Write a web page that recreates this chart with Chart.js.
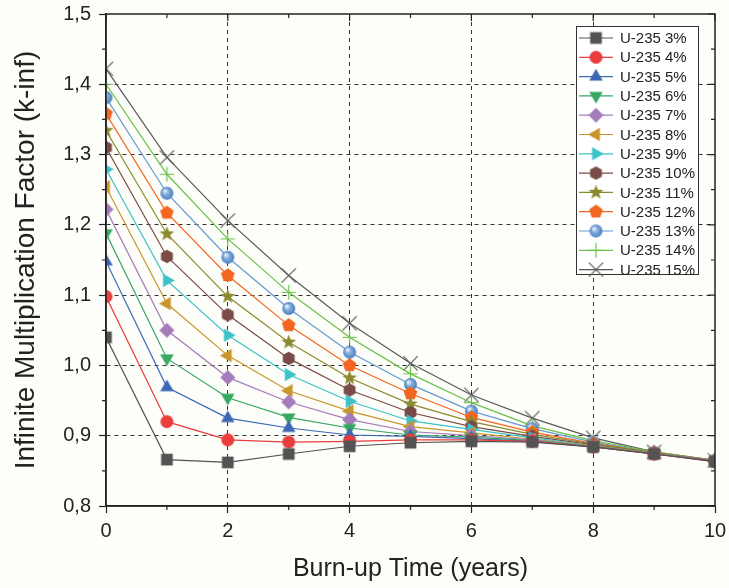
<!DOCTYPE html>
<html>
<head>
<meta charset="utf-8">
<script src="https://cdn.jsdelivr.net/npm/chart.js"></script>
<style>
  body { margin: 0; padding: 0; background: #fdfdf9; }
  #wrap { width: 729px; height: 588px; position: relative; }
</style>
</head>
<body>
<div id="wrap"><canvas id="kinfChart"></canvas></div>
<script>
// burn-up time (years)
const years = [0, 1, 2, 3, 4, 5, 6, 7, 8, 9, 10];
const enrichments = ['3%', '4%', '5%', '6%', '7%', '8%', '9%', '10%', '11%', '12%', '13%', '14%', '15%'];

// k-inf, one array per enrichment
const u3  = [1.040, 0.866, 0.862, 0.874, 0.885, 0.890, 0.892, 0.891, 0.884, 0.874, 0.863];
const u4  = [1.098, 0.920, 0.894, 0.891, 0.892, 0.894, 0.894, 0.892, 0.884, 0.874, 0.863];
const u5  = [1.148, 0.969, 0.925, 0.911, 0.901, 0.899, 0.896, 0.892, 0.884, 0.874, 0.864];
const u6  = [1.188, 1.010, 0.954, 0.926, 0.911, 0.901, 0.898, 0.893, 0.885, 0.875, 0.864];
const u7  = [1.222, 1.050, 0.983, 0.948, 0.923, 0.906, 0.900, 0.894, 0.885, 0.875, 0.864];
const u8  = [1.254, 1.088, 1.014, 0.964, 0.935, 0.913, 0.904, 0.895, 0.886, 0.875, 0.864];
const u9  = [1.279, 1.121, 1.043, 0.987, 0.949, 0.921, 0.909, 0.897, 0.886, 0.875, 0.864];
const u10 = [1.310, 1.155, 1.072, 1.010, 0.965, 0.933, 0.913, 0.899, 0.887, 0.875, 0.864];
const u11 = [1.334, 1.187, 1.098, 1.033, 0.982, 0.945, 0.920, 0.902, 0.888, 0.876, 0.864];
const u12 = [1.358, 1.217, 1.128, 1.057, 1.000, 0.960, 0.926, 0.905, 0.889, 0.876, 0.865];
const u13 = [1.381, 1.245, 1.154, 1.081, 1.019, 0.973, 0.935, 0.910, 0.891, 0.876, 0.865];
const u14 = [1.400, 1.272, 1.180, 1.104, 1.040, 0.988, 0.947, 0.914, 0.893, 0.877, 0.865];
const u15 = [1.422, 1.296, 1.206, 1.128, 1.060, 1.003, 0.958, 0.925, 0.897, 0.877, 0.865];

const series = [u3, u4, u5, u6, u7, u8, u9, u10, u11, u12, u13, u14, u15];
const colors = ['#535353', '#ea3d3d', '#3c67b4', '#35a862', '#a47bbb', '#c9962b', '#3cc3c8',
                '#7a4a46', '#8b8a2f', '#f2661f', '#649ad3', '#68c046', '#5a5a5a'];
const shapes = ['square', 'circle', 'up', 'down', 'diamond', 'left', 'right',
                'hex', 'star', 'pent', 'sphere', 'plus', 'cross'];

const FONT = '"Liberation Sans", Arial, sans-serif';

function marker(shape, color, r) {
  const s = Math.ceil(r * 2 + 6);
  const c = document.createElement('canvas');
  c.width = c.height = s;
  const g = c.getContext('2d');
  const m = s / 2;
  g.fillStyle = color;
  g.strokeStyle = color;
  const poly = (n, rot, rr) => {
    g.beginPath();
    for (let i = 0; i < n; i++) {
      const a = rot + i * 2 * Math.PI / n;
      g.lineTo(m + rr * Math.cos(a), m + rr * Math.sin(a));
    }
    g.closePath();
    g.fill();
  };
  switch (shape) {
    case 'square': g.fillRect(m - r * 0.9, m - r * 0.9, r * 1.8, r * 1.8); break;
    case 'circle': g.beginPath(); g.arc(m, m, r, 0, 2 * Math.PI); g.fill(); break;
    case 'up': poly(3, -Math.PI / 2, r * 1.2); break;
    case 'down': poly(3, Math.PI / 2, r * 1.2); break;
    case 'left': poly(3, Math.PI, r * 1.2); break;
    case 'right': poly(3, 0, r * 1.2); break;
    case 'diamond': poly(4, -Math.PI / 2, r * 1.15); break;
    case 'hex': poly(6, -Math.PI / 2, r * 1.05); break;
    case 'pent': poly(5, -Math.PI / 2, r * 1.1); break;
    case 'star': {
      g.beginPath();
      for (let i = 0; i < 10; i++) {
        const a = -Math.PI / 2 + i * Math.PI / 5;
        const rr = i % 2 ? r * 0.5 : r * 1.2;
        g.lineTo(m + rr * Math.cos(a), m + rr * Math.sin(a));
      }
      g.closePath();
      g.fill();
      break;
    }
    case 'sphere': {
      const grd = g.createRadialGradient(m - r * 0.35, m - r * 0.4, 0.5, m, m, r);
      grd.addColorStop(0, '#eef4fb');
      grd.addColorStop(0.45, '#7eaadb');
      grd.addColorStop(1, '#4b7fc0');
      g.fillStyle = grd;
      g.beginPath(); g.arc(m, m, r, 0, 2 * Math.PI); g.fill();
      break;
    }
    case 'plus':
      g.lineWidth = 1.2;
      g.beginPath();
      g.moveTo(m - r * 1.1, m); g.lineTo(m + r * 1.1, m);
      g.moveTo(m, m - r * 1.1); g.lineTo(m, m + r * 1.1);
      g.stroke();
      break;
    case 'cross':
      g.lineWidth = 1.2;
      g.beginPath();
      g.moveTo(m - r * 1.1, m - r * 1.1); g.lineTo(m + r * 1.1, m + r * 1.1);
      g.moveTo(m + r * 1.1, m - r * 1.1); g.lineTo(m - r * 1.1, m + r * 1.1);
      g.stroke();
      break;
  }
  return c;
}

const markers = shapes.map((s, i) => marker(s, colors[i], 6.5));

const datasets = series.map((vals, i) => ({
  label: 'U-235 ' + enrichments[i],
  data: years.map((t, j) => ({ x: t, y: vals[j] })),
  borderColor: colors[i],
  backgroundColor: colors[i],
  borderWidth: 1.2,
  pointStyle: markers[i],
  pointRadius: 7,
  tension: 0
}));

// frame, minor ticks and inward ticks on top/right
const framePlugin = {
  id: 'frame',
  afterDraw(chart) {
    const { ctx, chartArea: a, scales: { x, y } } = chart;
    ctx.save();
    ctx.strokeStyle = '#222';
    ctx.lineWidth = 1.5;
    ctx.strokeRect(a.left, a.top, a.width, a.height);
    ctx.lineWidth = 1.2;
    ctx.beginPath();
    for (let v = 0; v <= 10; v++) {
      const px = x.getPixelForValue(v);
      const len = v % 2 ? 4 : 7;
      if (v % 2) { ctx.moveTo(px, a.bottom); ctx.lineTo(px, a.bottom + len); }
      ctx.moveTo(px, a.top); ctx.lineTo(px, a.top + len);
    }
    for (let i = 0; i <= 14; i++) {
      const py = y.getPixelForValue(0.8 + i * 0.05);
      const len = i % 2 ? 4 : 7;
      if (i % 2) { ctx.moveTo(a.left, py); ctx.lineTo(a.left - len, py); }
      ctx.moveTo(a.right, py); ctx.lineTo(a.right - len, py);
    }
    ctx.stroke();
    ctx.restore();
  }
};

// legend box inside the plot, top right
const legendPlugin = {
  id: 'boxLegend',
  afterDraw(chart) {
    const { ctx, chartArea: a } = chart;
    const left = a.right - 139, top = a.top + 12;
    const w = 122, rowH = 19.3, h = 248;
    ctx.save();
    ctx.fillStyle = '#ffffff';
    ctx.fillRect(left, top, w, h);
    ctx.strokeStyle = '#333';
    ctx.lineWidth = 1;
    ctx.strokeRect(left + 0.5, top + 0.5, w, h);
    ctx.font = '15px ' + FONT;
    ctx.textBaseline = 'middle';
    chart.data.datasets.forEach((ds, i) => {
      const cy = top + 12 + i * rowH;
      ctx.strokeStyle = ds.borderColor;
      ctx.lineWidth = 1.2;
      ctx.beginPath();
      ctx.moveTo(left + 3, cy);
      ctx.lineTo(left + 37, cy);
      ctx.stroke();
      const img = ds.pointStyle;
      ctx.drawImage(img, left + 20 - img.width / 2, cy - img.height / 2);
      ctx.fillStyle = '#222';
      ctx.fillText(ds.label, left + 44, cy + 1);
    });
    ctx.restore();
  }
};

const gridColor = (ctx, edges) => edges.includes(ctx.tick.value) ? 'rgba(0,0,0,0)' : '#333';

new Chart(document.getElementById('kinfChart'), {
  type: 'line',
  data: { datasets },
  plugins: [framePlugin, legendPlugin],
  options: {
    responsive: true,
    maintainAspectRatio: false,
    animation: false,
    layout: { padding: { top: 14, right: 14, left: 0, bottom: 0 } },
    plugins: { legend: { display: false }, tooltip: { enabled: false } },
    scales: {
      x: {
        type: 'linear',
        min: 0, max: 10,
        afterFit: (s) => { s.height = 82; s.paddingLeft = 0; s.paddingRight = 0; },
        ticks: { stepSize: 2, padding: 6, color: '#222', font: { family: FONT, size: 20 } },
        grid: {
          color: (c) => gridColor(c, [0, 10]),
          tickColor: '#222', tickLength: 7, tickWidth: 1.2, lineWidth: 1
        },
        border: { display: true, color: '#222', width: 1.5, dash: [4, 4] },
        title: {
          display: true, text: 'Burn-up Time (years)', color: '#222',
          font: { family: FONT, size: 25 }, padding: { top: 0, bottom: 4 }
        }
      },
      y: {
        min: 0.8, max: 1.5,
        afterFit: (s) => { s.width = 106; s.paddingTop = 0; s.paddingBottom = 0; },
        ticks: {
          stepSize: 0.1, padding: 8, color: '#222', font: { family: FONT, size: 20 },
          callback: (v) => v.toFixed(1).replace('.', ',')
        },
        grid: {
          color: (c) => gridColor(c, [0.8, 1.5]),
          tickColor: '#222', tickLength: 7, tickWidth: 1.2, lineWidth: 1
        },
        border: { display: true, color: '#222', width: 1.5, dash: [4, 4] },
        title: {
          display: true, text: 'Infinite Multiplication Factor (k-inf)', color: '#222',
          font: { family: FONT, size: 28 }, padding: { top: 9, bottom: 0 }
        }
      }
    }
  }
});
</script>
</body>
</html>
